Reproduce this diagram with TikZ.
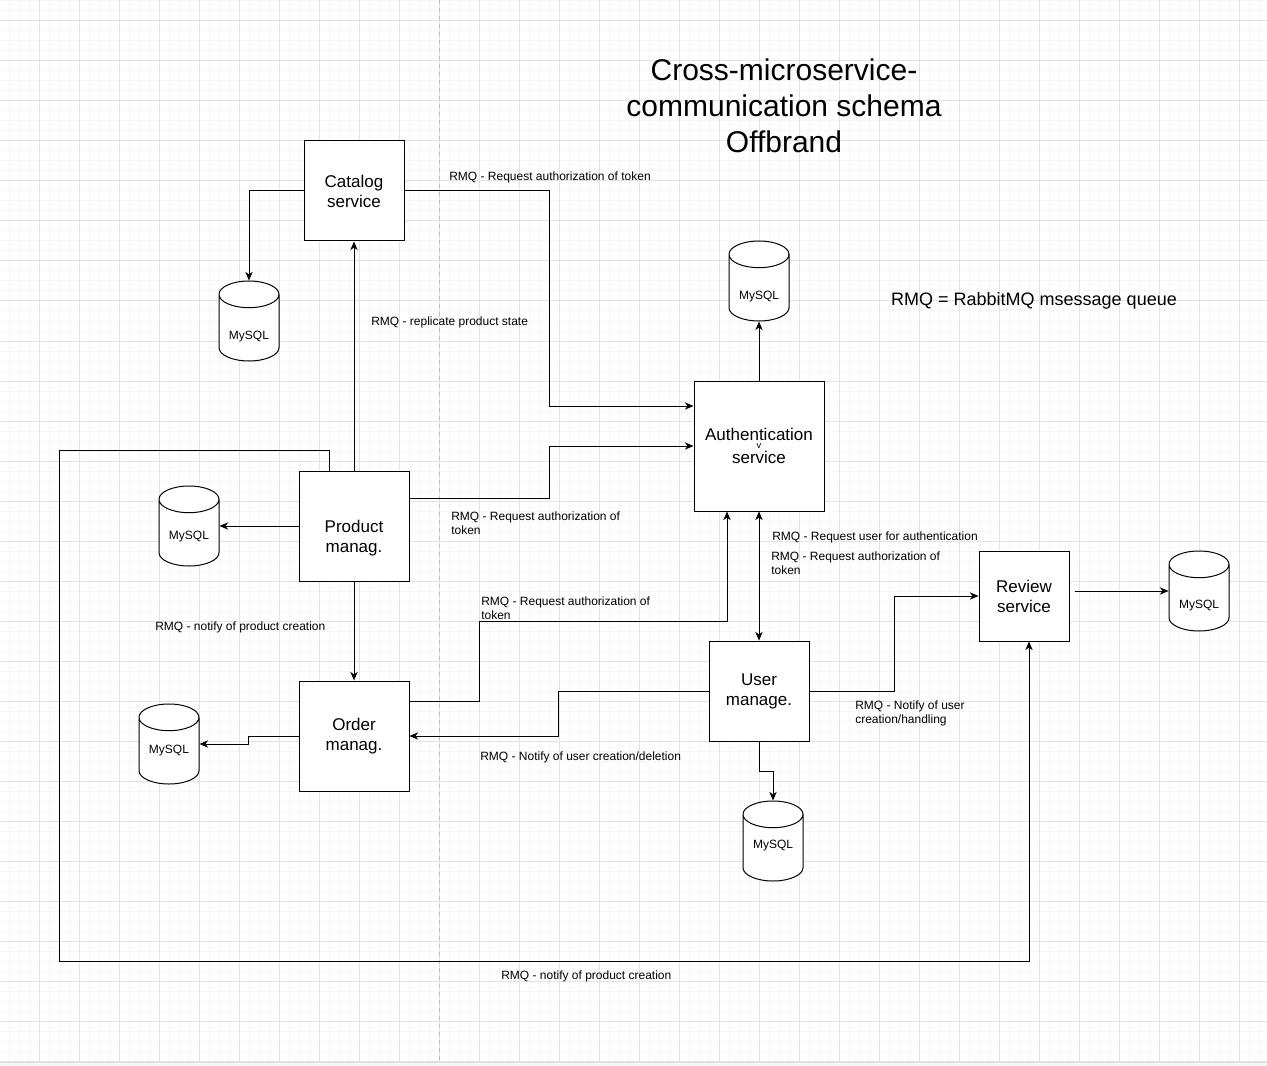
\documentclass[tikz,border=0pt]{standalone}
\usepackage{fontspec}
\setmainfont{Liberation Sans}
\usetikzlibrary{arrows.meta,shapes.geometric}

\newcommand{\svcfont}{\fontsize{12.75}{15}\selectfont}
\newcommand{\lblfont}{\fontsize{9}{10.5}\selectfont}
\newcommand{\titlefont}{\fontsize{22.5}{27}\selectfont}
\newcommand{\dbtext}[1]{\raisebox{#1}[\height][\depth]{MySQL}}

\tikzset{
    svc/.style={draw, fill=white, line width=0.75pt, align=center, inner sep=0pt, font=\svcfont},
    db/.style={cylinder, shape border rotate=90, aspect=0.667, draw, fill=white, line width=0.75pt,
        minimum width=45pt, minimum height=60pt, inner sep=0pt, anchor=shape center, font=\lblfont},
    lbl/.style={anchor=west, align=left, inner sep=0pt, font=\lblfont},
    arr/.style={line width=0.75pt, -{Stealth[length=6.5pt,width=5.5pt,inset=2pt]}},
    dbarr/.style={line width=0.75pt, {Stealth[length=6.5pt,width=5.5pt,inset=2pt]}-{Stealth[length=6.5pt,width=5.5pt,inset=2pt]}},
}

\begin{document}
\begin{tikzpicture}[x=0.75pt,y=-0.75pt]
    \useasboundingbox (0,0) rectangle (1267,1066);
    \fill[white] (0,0) rectangle (1267,1066);

    % grid
    \foreach \x in {9.5,19.5,...,1267} \draw[gray!7,line width=0.75pt] (\x,0) -- (\x,1061);
    \foreach \y in {1,11,...,1061} \draw[gray!7,line width=0.75pt] (0,\y) -- (1267,\y);
    \foreach \x in {39.5,79.5,...,1267} \draw[gray!22,line width=0.75pt] (\x,0) -- (\x,1061);
    \foreach \y in {21,61,...,1061} \draw[gray!22,line width=0.75pt] (0,\y) -- (1267,\y);
    \draw[gray!50,dash pattern=on 3pt off 3pt,line width=0.75pt] (439.5,0) -- (439.5,1061);
    \fill[gray!6] (0,1062) rectangle (1267,1066);
    \draw[gray!28,line width=0.75pt] (0,1062) -- (1267,1062);

    \node[font=\titlefont, align=center] (title) at (784,106) {Cross-microservice-\\communication schema\\Offbrand};
    \node[font=\fontsize{13.5}{16}\selectfont] (legend) at (1034,301) {RMQ = RabbitMQ msessage queue};

    \node[svc, minimum width=75pt, minimum height=75pt] (cat) at (354,191) {Catalog\\service};
    \node[svc, minimum width=97.5pt, minimum height=97.5pt, font=\fontsize{12.75}{16.8}\selectfont] (auth) at (759,446) {Authentication\\service};
    \node[font=\fontsize{7}{7}\selectfont, inner sep=0pt] (authv) at (759,446.5) {v};
    \node[svc, minimum width=82.5pt, minimum height=82.5pt] (prod) at (354,526) {};
    \node[font=\svcfont, align=center] (prodtxt) at (354,538) {Product\\manag.};
    \node[svc, minimum width=82.5pt, minimum height=82.5pt] (ord) at (354,736) {Order\\manag.};
    \node[svc, minimum width=75pt, minimum height=75pt] (usr) at (759,691) {User\\manage.};
    \node[svc, minimum width=67.5pt, minimum height=67.5pt] (rev) at (1024,596) {Review\\service};

    \node[db] (dbcat) at (249,321) {\dbtext{-6.75pt}};
    \node[db] (dbauth) at (759,281) {\dbtext{-6.75pt}};
    \node[db] (dbprod) at (189,526) {\dbtext{-3pt}};
    \node[db] (dbord) at (169,744) {\dbtext{0pt}};
    \node[db] (dbusr) at (773,841) {\dbtext{1.5pt}};
    \node[db] (dbrev) at (1199,591) {\dbtext{-6pt}};

    \draw[arr] (cat.west) -| (dbcat.north);
    \draw[arr] (cat.east) -- ++(145,0) |- ([yshift=30pt]auth.west);
    \draw[arr] (prod.north) -- (cat.south);
    \draw[arr] ([yshift=21pt]prod.east) -- ++(140,0) |- (auth.west);
    \draw[arr] (prod.west) -- (prod.west -| dbprod.east);
    \draw[arr] (prod.south) -- (ord.north);
    \draw[arr] ([xshift=-18.75pt]prod.north) -- ++(0,-20) -| (59,961) -| ([xshift=3.75pt]rev.south);
    \draw[arr] ([yshift=26.25pt]ord.east) -- ++(70,0) -- ++(0,-80) -| ([xshift=-24pt]auth.south);
    \draw[arr] (ord.west) -- ++(-50,0) |- (dbord.shape center -| dbord.east);
    \draw[arr] (usr.west) -- ++(-150,0) |- (ord.east);
    \draw[dbarr] (auth.south) -- (usr.north);
    \draw[arr] (auth.north) -- (dbauth.south);
    \draw[arr] (usr.east) -- ++(85,0) |- (rev.west);
    \draw[arr] ([shift={(3.75pt,3.75pt)}]rev.east) -- (dbrev.shape center -| dbrev.west);
    \draw[arr] (usr.south) -- ++(0,30) -| (dbusr.north);

    \node[lbl] (lblcatauth) at (449,177) {RMQ - Request authorization of token};
    \node[lbl] (lblrepl) at (371,322) {RMQ - replicate product state};
    \node[lbl] (lblprodauth) at (451,523) {RMQ - Request authorization of\\token};
    \node[lbl] (lblprodord) at (155,627) {RMQ - notify of product creation};
    \node[lbl] (lblordauth) at (481,608) {RMQ - Request authorization of\\token};
    \node[lbl] (lblusrord) at (480,757) {RMQ - Notify of user creation/deletion};
    \node[lbl] (lblauthusr) at (772,537) {RMQ - Request user for authentication};
    \node[lbl] (lbltoken) at (771,563) {RMQ - Request authorization of\\token};
    \node[lbl] (lblusrrev) at (855,713) {RMQ - Notify of user\\creation/handling};
    \node[lbl] (lblprodrev) at (501,976) {RMQ - notify of product creation};
\end{tikzpicture}
\end{document}
